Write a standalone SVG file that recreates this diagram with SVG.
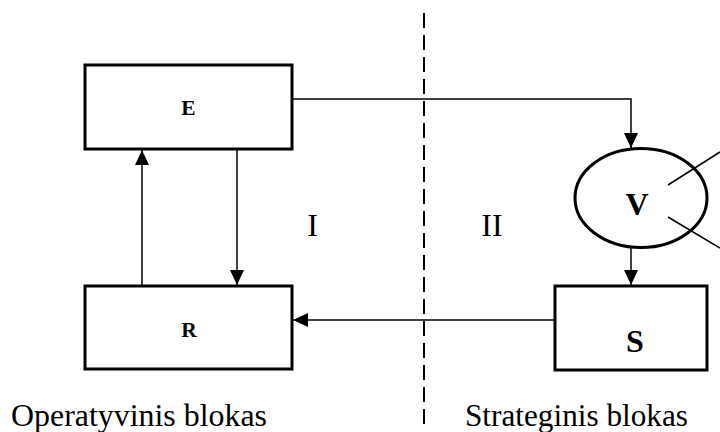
<svg xmlns="http://www.w3.org/2000/svg" width="720" height="432" viewBox="0 0 720 432">
<style>
.box{fill:#fff;stroke:#000;stroke-width:3}
.conn{fill:none;stroke:#000;stroke-width:1.5}
text{font-family:'Liberation Serif','DejaVu Serif',serif;fill:#000}
.b{font-weight:bold}
</style>
<defs>
<marker id="ah" markerUnits="userSpaceOnUse" markerWidth="16" markerHeight="14" refX="15" refY="7" orient="auto">
<path d="M0,0 L15,7 L0,14 Z" fill="#000"/>
</marker>
</defs>
<rect width="720" height="432" fill="#fff"/>
<line x1="424" y1="13" x2="424" y2="424" stroke="#000" stroke-width="2" stroke-dasharray="15 7"/>
<g id="connectors">
<polyline class="conn" points="292,99 631,99 631,148" marker-end="url(#ah)"/>
<line class="conn" x1="237" y1="149" x2="237" y2="285" marker-end="url(#ah)"/>
<line class="conn" x1="142" y1="286" x2="142" y2="150" marker-end="url(#ah)"/>
<line class="conn" x1="631" y1="248" x2="631" y2="285" marker-end="url(#ah)"/>
<line class="conn" x1="555" y1="320" x2="293" y2="320" marker-end="url(#ah)"/>
<line class="conn" x1="668" y1="185" x2="720" y2="152"/>
<line class="conn" x1="668" y1="217" x2="720" y2="248"/>
</g>
<g id="node-E">
<rect class="box" x="85" y="65" width="207" height="84"/>
<text class="b" x="188.5" y="115" font-family="Liberation Serif, serif" font-size="21.5" text-anchor="middle">E</text>
</g>
<g id="node-R">
<rect class="box" x="85" y="286" width="207" height="83"/>
<text class="b" x="189" y="337" font-family="Liberation Serif, serif" font-size="21.5" text-anchor="middle">R</text>
</g>
<g id="node-V">
<ellipse cx="641" cy="198" rx="66" ry="49.5" fill="none" stroke="#000" stroke-width="3"/>
<text class="b" x="637" y="215" font-family="Liberation Serif, serif" font-size="32" text-anchor="middle">V</text>
</g>
<g id="node-S">
<rect class="box" x="555" y="286" width="152" height="84"/>
<text class="b" x="635" y="352" font-family="Liberation Serif, serif" font-size="32" text-anchor="middle">S</text>
</g>
<text x="312.5" y="236" font-family="Liberation Serif, serif" font-size="32" text-anchor="middle">I</text>
<text x="492" y="236" font-family="Liberation Serif, serif" font-size="32" text-anchor="middle">II</text>
<text x="11" y="426" font-family="Liberation Serif, serif" font-size="32" textLength="256" lengthAdjust="spacingAndGlyphs">Operatyvinis blokas</text>
<text x="465" y="426" font-family="Liberation Serif, serif" font-size="32" textLength="223" lengthAdjust="spacingAndGlyphs">Strateginis blokas</text>
</svg>
